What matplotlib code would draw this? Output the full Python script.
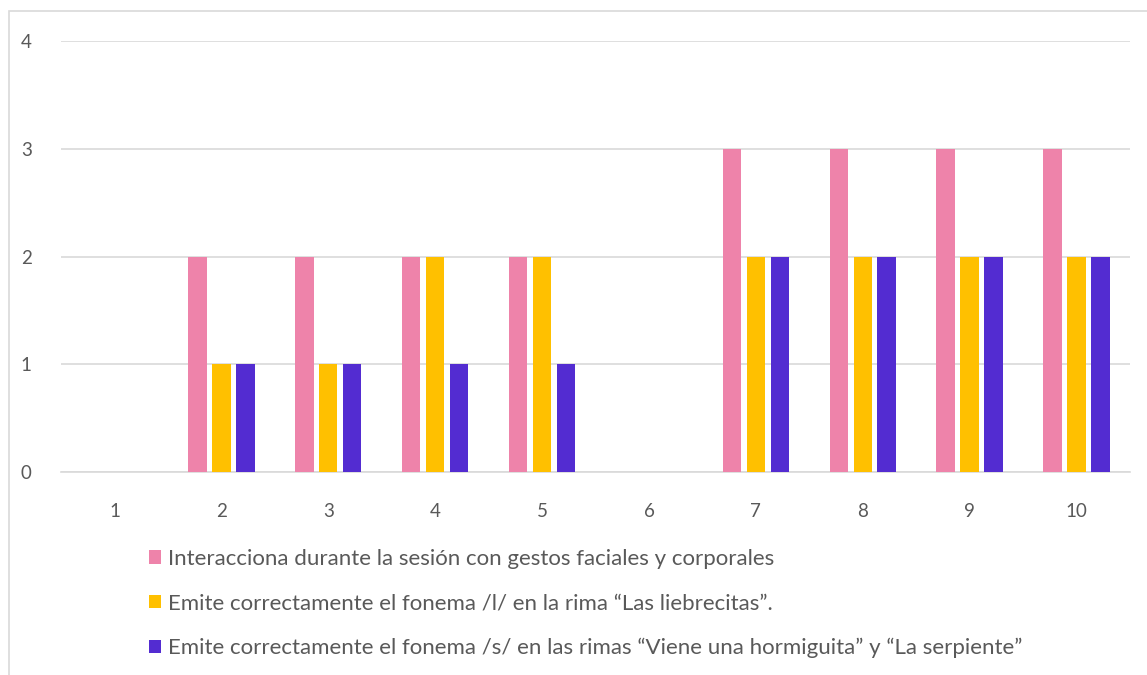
import numpy as np
import matplotlib
matplotlib.use('Agg')
import matplotlib.pyplot as plt
from matplotlib.patches import Rectangle

# ---- data ----
categories = ['1', '2', '3', '4', '5', '6', '7', '8', '9', '10']
series_names = [
    'Interacciona durante la sesión con gestos faciales y corporales',
    'Emite correctamente el fonema /l/ en la rima \u201cLas liebrecitas\u201d.',
    'Emite correctamente el fonema /s/ en las rimas \u201cViene una hormiguita\u201d y \u201cLa serpiente\u201d',
]
gestos = [0, 2, 2, 2, 2, 0, 3, 3, 3, 3]
fonema_l = [0, 1, 1, 2, 2, 0, 2, 2, 2, 2]
fonema_s = [0, 1, 1, 1, 1, 0, 2, 2, 2, 2]
y_ticks = [0, 1, 2, 3, 4]

colors = ['#EE83AA', '#FFC000', '#532CD1']
text_col = '#595959'
grid_col = '#D9D9D9'

plt.rcParams['font.family'] = ['Lato', 'DejaVu Sans']

fig = plt.figure(figsize=(11.47, 6.75), dpi=100)
ax = fig.add_axes([61 / 1147, 1 - 472 / 675, 1069 / 1147, 431 / 675])

x = np.arange(len(categories))
w = 0.173
step = 0.224
handles = []
for k, (vals, name) in enumerate(zip([gestos, fonema_l, fonema_s], series_names)):
    b = ax.bar(x + (k - 1) * step, vals, width=w, color=colors[k], label=name, zorder=3)
    handles.append(b)

ax.set_xlim(-0.5, len(categories) - 0.5)
ax.set_ylim(0, 4)
ax.set_yticks(y_ticks)
ax.set_xticks(x)
ax.set_xticklabels(categories)
ax.grid(axis='y', color=grid_col, linewidth=1.2, zorder=0)
for s in ['top', 'right', 'left']:
    ax.spines[s].set_visible(False)
ax.spines['bottom'].set_color(grid_col)
ax.spines['bottom'].set_linewidth(1.2)
ax.tick_params(axis='both', length=0, colors=text_col, labelsize=13.5)
ax.tick_params(axis='x', pad=22)
ax.tick_params(axis='y', pad=21)

# legend, stacked vertically below the plot
leg = fig.legend(handles=handles, labels=series_names, loc='upper left',
                 bbox_to_anchor=(140 / 1147, 1 - 540 / 675), frameon=False,
                 fontsize=16, labelcolor=text_col, handlelength=0.55, handleheight=0.55,
                 handletextpad=0.3, labelspacing=1.1, borderaxespad=0)

# chart border (right and bottom edges are cut off in the original)
fig.patches.append(Rectangle((9 / 1147, -0.1), 1.2, 1 - 11 / 675 + 0.1,
                             transform=fig.transFigure, fill=False,
                             edgecolor=grid_col, linewidth=1.2))

fig.savefig('out.png', dpi=100)
